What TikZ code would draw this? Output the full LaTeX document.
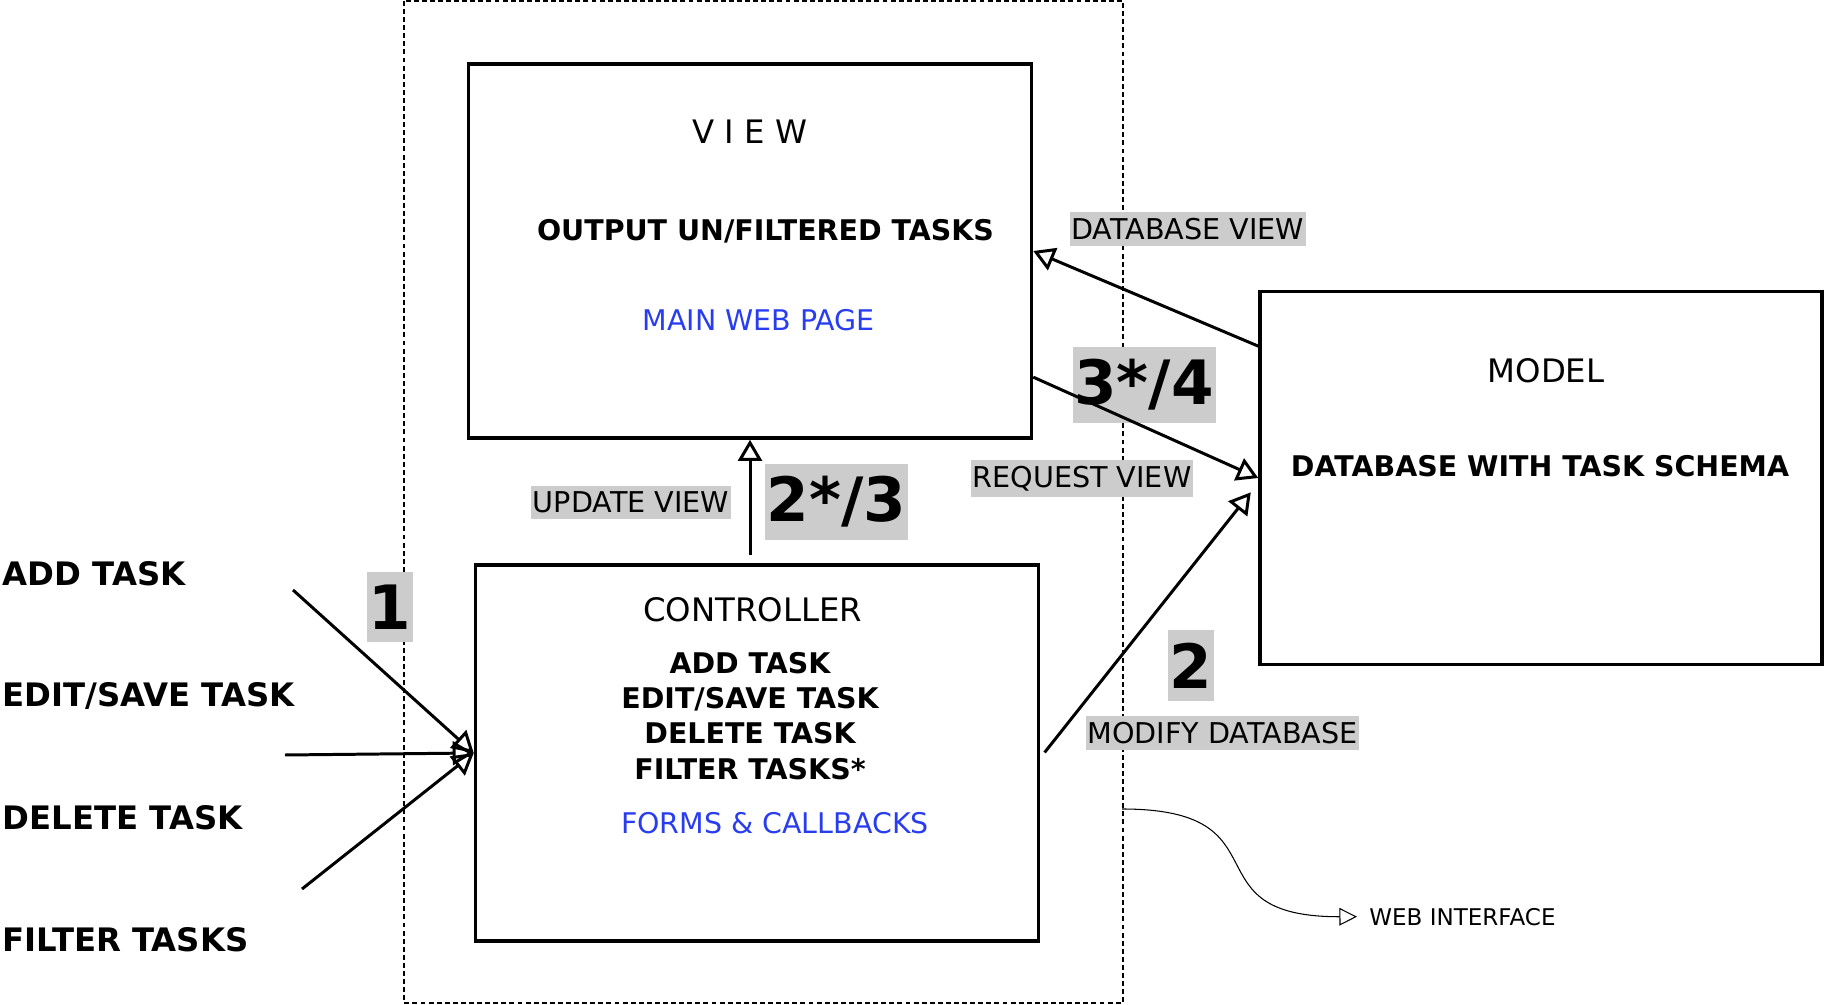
\documentclass[tikz,border=0pt]{standalone}
\usepackage{fontspec}
\setmainfont{DejaVu Sans}
\usepackage{xcolor}
\usepackage{tikz}
\usetikzlibrary{arrows.meta}
\definecolor{webblue}{RGB}{40,60,240}
\tikzset{
    box/.style={draw, line width=1pt, minimum width=5.63cm, minimum height=3.74cm},
    title/.style={font=\fontsize{9.2}{11}\selectfont},
    item/.style={font=\fontsize{8.1}{10}\selectfont\bfseries},
    link/.style={text=webblue, font=\fontsize{8.1}{10}\selectfont},
    tag/.style={fill=black!20, inner xsep=0.5pt, inner ysep=1.7pt, font=\fontsize{8.15}{10}\selectfont},
    stepno/.style={fill=black!20, inner xsep=0.5pt, inner ysep=3.6pt, font=\fontsize{17.4}{20}\selectfont\bfseries},
    input/.style={anchor=west, inner sep=0pt, font=\fontsize{9.2}{11}\selectfont\bfseries},
    note/.style={anchor=west, font=\fontsize{6.55}{8}\selectfont},
    flow/.style={line width=0.85pt, -{Triangle[open, length=6pt, width=6.8pt]}},
    frame/.style={line width=0.4pt, dash pattern=on 1.4pt off 0.9pt}
}

\begin{document}
\begin{tikzpicture}
		\useasboundingbox (0,0) rectangle (18.24,-10.05);

		% web interface
		\draw[frame] (4.04,-0.01) rectangle (11.23,-10.03);
		\coordinate (webfrom) at (11.22,-8.09);
		\node[note] (webif) at (13.57,-9.167) {WEB INTERFACE};

		% view
		\node[box] (view) at (7.50,-2.51) {};
		\node[title] (viewtitle) at (7.50,-1.315) {V I E W};
		\node[item] (viewtasks) at (7.655,-2.315) {OUTPUT UN/FILTERED TASKS};
		\node[link] (viewpage) at (7.585,-3.20) {MAIN WEB PAGE};

		% controller
		\node[box, minimum height=3.76cm] (ctrl) at (7.57,-7.53) {};
		\node[title] (ctrltitle) at (7.527,-6.10) {CONTROLLER};
		\node[item, align=center] (ctrlitems) at (7.50,-7.16) {ADD TASK\\EDIT/SAVE TASK\\DELETE TASK\\FILTER TASKS*};
		\node[link] (ctrlforms) at (7.75,-8.233) {FORMS \& CALLBACKS};

		% model
		\node[box, minimum width=5.62cm, minimum height=3.73cm] (model) at (15.41,-4.78) {};
		\node[title] (modeltitle) at (15.46,-3.71) {MODEL};
		\node[item] (modelbody) at (15.40,-4.665) {DATABASE WITH TASK SCHEMA};

		% inputs
		\node[input] (addtask) at (0.02,-5.742) {ADD TASK};
		\node[input] (edittask) at (0.02,-6.962) {EDIT/SAVE TASK};
		\node[input] (deletetask) at (0.02,-8.18) {DELETE TASK};
		\node[input] (filtertasks) at (0.02,-9.397) {FILTER TASKS};
		\coordinate (in1) at (2.93,-5.90);
		\coordinate (in2) at (2.85,-7.55);
		\coordinate (in3) at (3.02,-8.89);

		% labels
		\node[tag] (dbview) at (11.877,-2.292) {DATABASE VIEW};
		\node[tag] (reqview) at (10.819,-4.787) {REQUEST VIEW};
		\node[tag] (updview) at (6.311,-5.025) {UPDATE VIEW};
		\node[tag] (moddb) at (12.226,-7.329) {MODIFY DATABASE};
		\node[stepno] (s1) at (3.897,-6.072) {1};
		\node[stepno] (s2) at (11.906,-6.654) {2};
		\node[stepno] (s23) at (8.364,-5.02) {2*/3};
		\node[stepno] (s34) at (11.441,-3.85) {3*/4};

		% connections
		\draw[flow] (in1) -- (ctrl.west);
		\draw[flow] (in2) -- (ctrl.west);
		\draw[flow] (in3) -- (ctrl.west);
		\draw[flow, shorten <=0.08cm] (view.south |- ctrl.north) -- (view.south);
		\draw[flow] (model.155) -- (view.east);
		\draw[flow] (view.-24) -- (model.west);
		\draw[flow, shorten <=0.07cm, shorten >=0.12cm] (ctrl.-1) -- (model.181);
		\draw[line width=0.3pt, -{Triangle[open, length=5pt, width=5pt]}] (webfrom) .. controls (12.9,-8.09) and (11.85,-9.17) .. (webif.west);
	\end{tikzpicture}
\end{document}
